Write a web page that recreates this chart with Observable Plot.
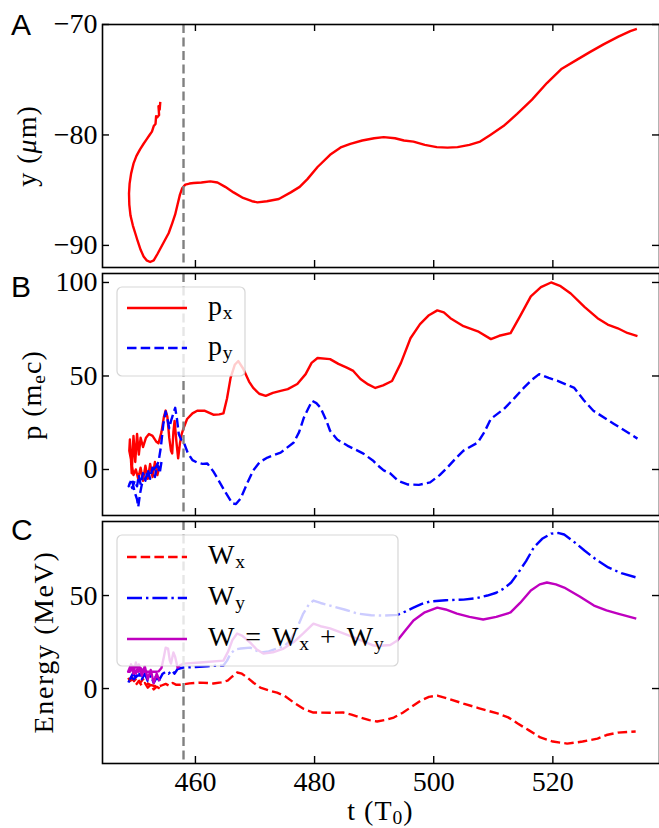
<!DOCTYPE html>
<html><head><meta charset="utf-8">
<script src="https://cdn.jsdelivr.net/npm/d3@7"></script>
<script src="https://cdn.jsdelivr.net/npm/@observablehq/plot@0.6"></script>
<style>
body{margin:0;background:#fff;}
#wrap{position:relative;width:659px;height:828px;overflow:hidden;background:#fff;}
#wrap svg{position:absolute;left:0;top:0;}
</style></head><body><div id="wrap"></div>
<script>
// ---------- data ----------
const xTicks = [460, 480, 500, 520];
const tMark = 458;

// Panel A: y (um)
const tA = [454.1,454.0,453.8,453.9,453.6,453.4,453.3,453.0,452.7,452.3,451.8,451.3,450.7,450.1,449.6,449.2,448.95,448.85,448.9,449.1,449.5,449.9,450.3,450.8,451.3,451.8,452.4,453.0,453.6,454.3,455.0,455.5,456.1,456.6,457.0,457.4,457.8,458.3,459.0,459.7,461.0,462.5,463.7,465.0,466.4,468.0,469.5,470.4,472.0,474.0,476.0,477.5,478.8,480.5,482.6,484.5,486.0,488.0,490.0,491.6,493.5,495.0,496.6,498.5,500.5,502.3,504.0,506.0,507.8,509.5,511.7,514.0,516.5,519.0,521.5,524.0,526.2,528.5,531.0,533.0,534.1];
const yA = [-77.0,-77.7,-77.4,-78.2,-78.4,-78.3,-79.0,-79.2,-79.7,-80.0,-80.4,-80.8,-81.3,-81.9,-82.6,-83.5,-84.4,-85.3,-86.3,-87.3,-88.2,-88.9,-89.6,-90.4,-91.0,-91.35,-91.5,-91.35,-90.8,-90.1,-89.4,-88.9,-88.0,-87.2,-86.3,-85.4,-84.8,-84.5,-84.4,-84.35,-84.3,-84.2,-84.3,-84.7,-85.2,-85.7,-86.0,-86.1,-86.0,-85.8,-85.2,-84.7,-84.0,-82.9,-81.8,-81.1,-80.8,-80.5,-80.3,-80.2,-80.3,-80.5,-80.6,-80.9,-81.1,-81.15,-81.1,-80.9,-80.6,-80.0,-79.2,-78.1,-76.8,-75.3,-74.0,-73.2,-72.5,-71.8,-71.1,-70.6,-70.4];
const yTicksA = [-90, -80, -70];

// Panel B: p (m_e c)
const tPx = [454.0,453.6,453.2,452.8,452.4,452.0,451.6,451.2,450.8,450.4,450.0,449.6,449.2,448.9,
 449.0,449.3,449.6,449.9,450.2,450.5,450.8,451.2,451.7,452.2,452.8,453.4,453.8,454.3,454.7,455.0,455.3,455.6,455.9,456.1,456.3,456.5,456.8,457.1,457.4,457.7,458.0,458.6,459.5,460.3,461.5,463.0,464.0,464.7,465.3,465.9,466.6,467.2,468.0,469.0,469.7,470.7,471.8,473.0,474.3,475.5,477.1,478.5,479.5,480.5,482.6,484.0,485.5,486.5,487.7,489.0,490.2,491.5,493.0,494.5,496.1,497.7,499.2,500.6,501.7,502.8,505.0,507.4,509.6,511.0,512.9,514.5,516.3,518.0,519.7,521.3,523.0,525.3,527.5,529.2,530.9,532.5,534.2];
const px = [2,-3,4,-4,3,-5,2,-6,1,-5,0,-3,5,10,
 16,-2,18,4,19,8,17,12,17,19,18,15,14,20,28,31.5,28,17,10,8.6,20,26,15,6,14,19,22,27,30,31.4,31.5,29.3,29.5,30,38,49,56,58,54,47,43.6,40.5,39.4,41,42,43,45.7,51,57,59.6,59,56.5,54.3,52.7,48.4,45.5,43.6,45,47.3,57,70.2,77.7,82.5,85.1,84,80.9,76.6,73.9,69.7,71.5,72.9,82,92.6,97.5,100,98,94.1,87,80.9,77.5,75.5,73,71.3];
const tPy = [454.3,454.0,453.6,453.2,452.8,452.4,452.0,451.6,451.2,450.8,450.5,450.2,449.8,449.4,449.0,448.8,
 449.3,449.8,450.2,450.4,450.7,451.0,451.5,452.0,452.5,453.0,453.5,453.8,454.2,454.6,455.0,455.3,455.6,455.9,456.1,456.4,456.6,456.9,457.2,457.6,458.0,458.7,459.5,460.3,461.2,462.0,463.0,463.9,465.0,466.2,466.8,467.6,468.6,469.7,470.8,472.1,474.3,476.5,477.4,478.2,479.0,479.6,480.3,481.0,482.0,482.6,483.8,485.5,488.2,489.9,490.5,491.6,492.7,494.0,495.6,497.5,499.4,501.0,502.3,503.7,505.0,507.4,508.5,509.6,511.8,513.5,515.1,516.5,517.7,519.3,520.9,523.6,525.2,526.8,530.2,534.2];
const py = [4,-2,3,-4,1,-5,0,-6,-2,-8,-3,-9,-6,-10,-7,-9,
 -5,-12,-16,-20,-13,-8,-5,-3,-1,0,2,4,12,24,31,27,22,26,28,31,33,27,19,16,15,9,5,3.7,3,3.2,-1,-5.9,-12,-18.1,-18.5,-15.4,-8,-0.5,4,6.4,9,14.4,20,27.7,33,36.7,35.5,33,26,20.7,16,12.8,8.5,4.5,2.5,-0.5,-2.1,-6,-8,-8.2,-6.9,-3,1.1,6,10.1,14.4,20,27.1,32.4,38,43.6,48,51,49,47.3,43.6,37,31.4,24.5,16.5];
const yTicksB = [0, 50, 100];

// Panel C: Energy (MeV)
const tWx = [454.0,453.5,453.0,452.5,452.0,451.5,451.0,450.5,450.0,449.5,449.0,448.7,
 449.2,449.7,450.2,450.7,451.2,451.8,452.4,453.0,453.6,454.2,455.0,455.6,456.2,456.8,457.4,458.0,459.0,460.8,462.0,463.0,464.3,465.4,466.2,467.0,467.8,468.7,469.8,470.9,472.3,473.7,475.0,476.5,478.2,479.8,482.6,484.8,486.2,487.7,489.2,490.5,492.0,493.3,494.8,496.1,497.8,499.2,500.6,502.5,505.0,507.5,510.7,512.5,514.1,516.0,517.9,520.0,522.4,525.0,527.5,529.0,530.9,533.9];
const wx = [0,1,-0.5,2,0.5,3,1.5,4,2,5,4,6,
 7,4,6,3,5,3,2,1.5,1,1.5,2.5,1.5,3,2,2,2.2,2.8,3.2,3,2.7,3.3,4.3,6.5,8.6,8,5.9,3,0.5,-1,-2.2,-4,-7.5,-11,-12.9,-13,-12.9,-14,-15.6,-17,-17.7,-16.8,-15.6,-13,-10.2,-6.5,-4.5,-3.8,-5.5,-8.1,-10.5,-13.4,-15.5,-18.8,-22.5,-26.3,-28.5,-29.6,-28.5,-26.9,-25,-23.7,-23.1];
const tWy = [454.0,453.5,453.0,452.5,452.0,451.5,451.0,450.5,450.0,449.5,449.0,448.7,
 449.2,449.7,450.3,451.0,452.0,453.0,453.5,454.0,454.5,455.0,455.5,456.1,456.5,457.0,458.0,460.0,462.0,464.7,465.3,465.9,466.7,467.6,469.2,470.9,472.3,473.7,475.0,475.9,477.0,478.1,479.0,479.8,481.0,482.6,485.0,487.2,489.5,491.6,493.9,495.3,496.6,498.0,499.4,502.0,505.0,507.0,509.0,510.5,511.8,513.0,514.1,515.5,516.8,518.2,519.7,521.0,521.9,523.5,525.3,527.2,529.3,531.5,534.0];
const wy = [4,6,3,7,4,8,5,9,6,8,5,3,
 6,5,7,7,7,7,6,5,8,9,8,9.7,8,10.5,11.3,11.6,12,12.4,15,18.8,21,21.5,22,19.4,20,21.5,23,25.8,32,40.3,45,47.3,46,44.6,42.5,40.3,39.4,39.2,39.6,41.5,43.5,45.5,46.8,47.5,47.8,48.5,50,51.5,53.8,57,61.8,68.5,75.8,80.5,83.3,83.6,82.8,79,74.2,69.5,65.1,62,59.7];
const tW = [454.0,453.5,453.0,452.5,452.0,451.5,451.0,450.5,450.0,449.5,449.0,448.7,
 449.2,449.6,450.0,450.4,450.8,451.3,452.0,453.0,453.8,454.3,454.7,455.0,455.4,455.7,455.9,456.3,456.6,457.0,457.4,458.0,460.8,464.7,465.5,466.2,467.0,467.8,469.2,470.3,471.4,473.0,474.8,476.5,478.1,479.8,481.0,482.6,484.5,486.7,488.5,489.9,491.0,492.7,493.9,495.2,496.6,498.5,500.6,502.0,503.9,506.0,508.3,510.5,512.9,514.5,516.3,517.8,519.0,520.5,521.9,524.5,526.9,529.0,530.9,534.0];
const wTot = [4,8,3,10,5,12,7,13,8,12,9,9,
 13,8,14,9,11,9,9,9,9.2,11,17,22,21.5,15,13.4,19.4,17,11.3,12.5,13.4,14,15,20,26,29.6,28.5,24.7,21,18.8,19.5,21.5,25,29.6,34.9,33.5,32.3,30,27.4,25,23.1,23,23.4,25.8,31,36.6,41,43.5,42.5,40.3,38.5,37.1,38.5,40.9,46,52.7,56,57,56,54.3,49.5,44.6,42,40.3,37.6];
const yTicksC = [0, 50];

// ---------- layout ----------
const W = 659, H = 828, ML = 102;
const xDomain = [444.4, 537.9];
const SERIF = "Liberation Serif, DejaVu Serif";
const SANS = "Liberation Sans, DejaVu Sans";
const FS = 28;
const LW = 2.4;
const DASH = "9.5,4.2", DASHDOT = "15,4,2.4,4";
const RED = "#ff0000", BLUE = "#0000ff", MAG = "#bf00bf";

function rows(t, v) { return t.map((ti, i) => ({t: ti, v: v[i]})); }

function panel(o) {
  const fw = W - ML, fh = o.bottom - o.top;
  const tk = {stroke: "black", strokeWidth: 1.4};
  const marks = [
    ...o.lines.map(l => Plot.line(rows(l.t, l.v), {x: "t", y: "v", stroke: l.color, strokeWidth: LW,
      strokeDasharray: l.dash, strokeLinejoin: "round", strokeLinecap: "butt"})),
    Plot.ruleX([tMark], {stroke: "#808080", strokeWidth: 2.4, strokeDasharray: "9,4.5"}),
    Plot.ruleX(xTicks, {insetBottom: fh - 7, ...tk}),
    Plot.ruleX(xTicks, {insetTop: fh - 7, ...tk}),
    Plot.ruleY(o.yTicks, {insetRight: fw - 7, ...tk}),
    Plot.ruleY(o.yTicks, {insetLeft: fw - 7, ...tk}),
    Plot.frame({stroke: "black", strokeWidth: 1.6}),
    Plot.axisY({ticks: o.yTicks, tickSize: 0, tickPadding: 5, label: null, tickFormat: d3.format("d"),
      fontFamily: SERIF, fontSize: FS})
  ];
  if (o.xAxis) marks.push(Plot.axisX({ticks: xTicks, tickSize: 0, tickPadding: 8, label: null,
    tickFormat: d3.format("d"), fontFamily: SERIF, fontSize: FS}));
  return Plot.plot({
    width: W, height: H, marginLeft: ML, marginRight: 0,
    marginTop: o.top, marginBottom: H - o.bottom,
    x: o.xAxis ? {domain: xDomain} : {domain: xDomain, axis: null},
    y: {domain: o.yDomain},
    style: {background: "transparent", fontFamily: SERIF, fontSize: FS + "px", color: "black", overflow: "visible"},
    marks
  });
}

function rich(sel, parts, attrs, size, spacing = 0) {
  const t = sel.append("text").style("white-space", "pre").attr("fill", "black")
    .style("font-family", SERIF).style("font-size", size + "px")
    .attr("text-anchor", "start").style("letter-spacing", spacing + "px");
  for (const [k, v] of Object.entries(attrs)) t.attr(k, v);
  let pending = 0;
  for (const p of parts) {
    if (typeof p === "string") {
      const s = t.append("tspan").text(p);
      if (pending) { s.attr("dy", -pending); pending = 0; }
    } else if (p.sub != null) {
      t.append("tspan").attr("dy", 4 - pending).style("font-size", (size * 0.7) + "px").text(p.sub);
      pending = 4;
    } else if (p.it != null) {
      const s = t.append("tspan").style("font-style", "italic").text(p.it);
      if (pending) { s.attr("dy", -pending); pending = 0; }
    }
  }
  return t;
}

function legend(svg, box, entries) {
  const g = d3.select(svg).append("g");
  g.append("rect").attr("x", box.x).attr("y", box.y).attr("width", box.w).attr("height", box.h)
    .attr("rx", 5).attr("fill", "white").attr("fill-opacity", 0.8)
    .attr("stroke", "#cccccc").attr("stroke-opacity", 0.8).attr("stroke-width", 1.2);
  for (const e of entries) {
    g.append("line").attr("x1", 127).attr("x2", 187).attr("y1", e.y).attr("y2", e.y)
      .attr("stroke", e.color).attr("stroke-width", LW).attr("stroke-dasharray", e.dash || null);
    rich(g, e.parts, {x: 208, y: e.y + 6.5}, FS, 0.8);
  }
}

function ylabel(svg, x, y, parts, spacing) {
  rich(d3.select(svg), parts, {transform: `translate(${x},${y}) rotate(-90)`, "text-anchor": "middle"}, FS, spacing);
}
function letter(svg, s, y) {
  d3.select(svg).append("text").attr("x", 11).attr("y", y).attr("text-anchor", "start")
    .style("font-family", SANS).style("font-size", "30px").attr("fill", "black").text(s);
}

const wrap = document.getElementById("wrap");
const SP = "\u2004";

// Panel A
const svgA = panel({top: 24, bottom: 267, yDomain: [-92, -70], yTicks: yTicksA,
  lines: [{t: tA, v: yA, color: RED}]});
ylabel(svgA, 36, 146, ["y (", {it: "\u03BC"}, "m)"], 1);
letter(svgA, "A", 35);
wrap.appendChild(svgA);

// Panel B
const svgB = panel({top: 273, bottom: 515, yDomain: [-24.6, 104.8], yTicks: yTicksB,
  lines: [{t: tPx, v: px, color: RED}, {t: tPy, v: py, color: BLUE, dash: DASH}]});
legend(svgB, {x: 117, y: 287, w: 128, h: 89}, [
  {y: 308, color: RED, parts: ["p", {sub: "x"}]},
  {y: 348, color: BLUE, dash: DASH, parts: ["p", {sub: "y"}]}
]);
ylabel(svgB, 41, 395, ["p (m", {sub: "e"}, "c)"], 1);
letter(svgB, "B", 297);
wrap.appendChild(svgB);

// Panel C
const svgC = panel({top: 521, bottom: 763, yDomain: [-40.3, 89.8], yTicks: yTicksC, xAxis: true,
  lines: [{t: tWx, v: wx, color: RED, dash: DASH}, {t: tWy, v: wy, color: BLUE, dash: DASHDOT}, {t: tW, v: wTot, color: MAG}]});
legend(svgC, {x: 117, y: 535, w: 281, h: 131}, [
  {y: 557, color: RED, dash: DASH, parts: ["W", {sub: "x"}]},
  {y: 598, color: BLUE, dash: DASHDOT, parts: ["W", {sub: "y"}]},
  {y: 639, color: MAG, parts: ["W" + SP + "=" + SP + "W", {sub: "x"}, SP + "+" + SP + "W", {sub: "y"}]}
]);
ylabel(svgC, 53, 642, ["Energy (MeV)"], 1.6);
letter(svgC, "C", 540);
rich(d3.select(svgC), ["t (T", {sub: "0"}, ")"], {x: 380.5, y: 820, "text-anchor": "middle"}, FS, 1);
wrap.appendChild(svgC);
</script>
</body></html>
